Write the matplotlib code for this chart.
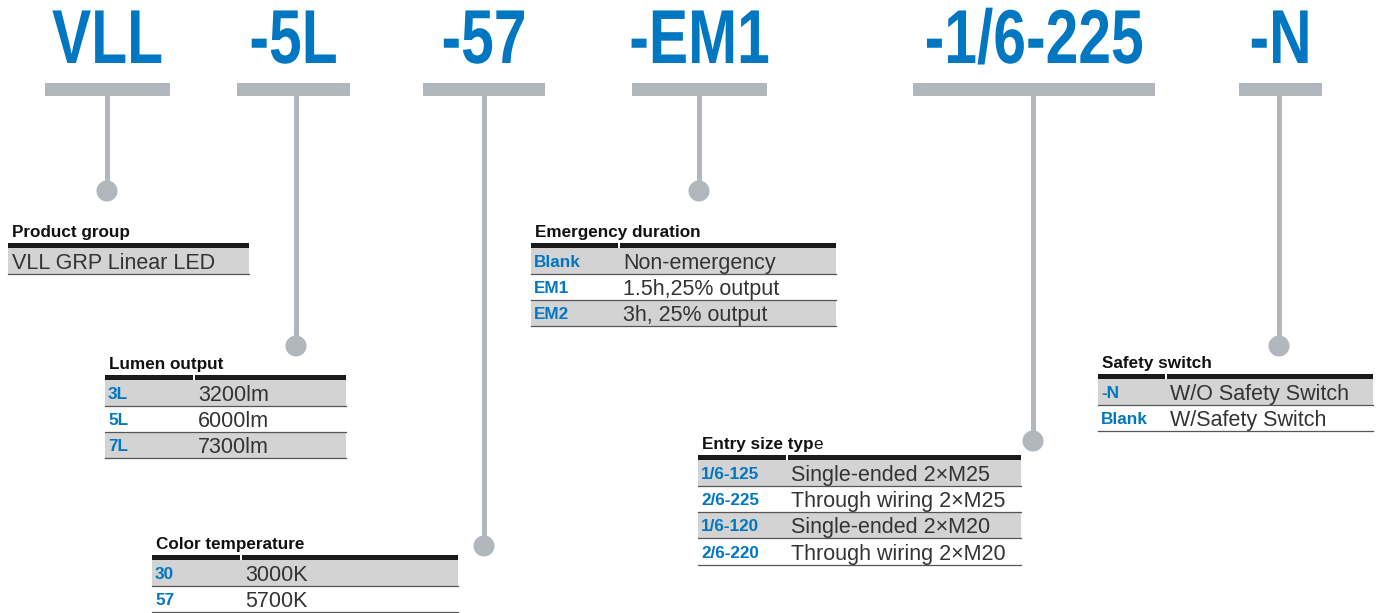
import matplotlib.pyplot as plt
from matplotlib.patches import Rectangle, Circle
from matplotlib.patheffects import AbstractPathEffect
from matplotlib.transforms import Affine2D

# ---- data ----
header_codes = ["VLL", "-5L", "-57", "-EM1", "-1/6-225", "-N"]

product_title = "Product group"
product_codes = [""]
product_desc = ["VLL GRP Linear LED"]

lumen_title = "Lumen output"
lumen_codes = ["3L", "5L", "7L"]
lumen_desc = ["3200lm", "6000lm", "7300lm"]

cct_title = "Color temperature"
cct_codes = ["30", "57"]
cct_desc = ["3000K", "5700K"]

em_title = "Emergency duration"
em_codes = ["Blank", "EM1", "EM2"]
em_desc = ["Non-emergency", "1.5h,25% output", "3h, 25% output"]

entry_title = "Entry size typ"   # last "e" is set in regular weight in the original
entry_codes = ["1/6-125", "2/6-225", "1/6-120", "2/6-220"]
entry_desc = ["Single-ended 2\u00d7M25", "Through wiring 2\u00d7M25",
              "Single-ended 2\u00d7M20", "Through wiring 2\u00d7M20"]

switch_title = "Safety switch"
switch_codes = ["-N", "Blank"]
switch_desc = ["W/O Safety Switch", "W/Safety Switch"]

# ---- layout (pixels) ----
# header: bar left, bar right, stem x, dot y
header_layout = [(45, 170, 107, 191), (237, 350, 296, 346), (423, 545, 484, 546),
                 (632, 767, 699, 191), (913, 1155, 1033, 441), (1239, 1322, 1279, 346)]
# table: left, right, top of black rule, value column x
tables = [
    (product_title, product_codes, product_desc, (8, 249, 243, 12)),
    (lumen_title, lumen_codes, lumen_desc, (105, 346, 375, 198)),
    (cct_title, cct_codes, cct_desc, (152, 458, 555, 245)),
    (em_title, em_codes, em_desc, (531, 836, 243, 623)),
    (entry_title, entry_codes, entry_desc, (698, 1021, 455, 791)),
    (switch_title, switch_codes, switch_desc, (1098, 1373, 374, 1170)),
]

BLUE = "#0077c0"
GREY = "#b1b7bd"
ROW = "#d3d3d3"
TXT = "#333333"
SANS = ["Liberation Sans", "DejaVu Sans"]


class Squeeze(AbstractPathEffect):
    """Narrow the glyphs horizontally around a centre x (display px)."""
    def __init__(self, cx, sx):
        super().__init__()
        self.cx, self.sx = cx, sx

    def draw_path(self, renderer, gc, tpath, affine, rgbFace=None):
        aff = affine + Affine2D().translate(-self.cx, 0).scale(self.sx, 1).translate(self.cx, 0)
        renderer.draw_path(gc, tpath, aff, rgbFace)


fig = plt.figure(figsize=(13.8, 6.13), dpi=100)
ax = fig.add_axes([0, 0, 1, 1])
ax.set_xlim(0, 1380)
ax.set_ylim(613, 0)
ax.axis("off")

# header codes, bars, stems and dots
for code, (x0, x1, sx, dy) in zip(header_codes, header_layout):
    cx = (x0 + x1) / 2
    ax.text(cx, 63, code, ha="center", va="baseline", color=BLUE,
            fontsize=55, fontweight="bold", family=SANS,
            path_effects=[Squeeze(cx, 0.77)])
    ax.add_patch(Rectangle((x0, 83), x1 - x0, 13, color=GREY, lw=0))
    ax.add_patch(Rectangle((sx - 2.5, 96), 5, dy - 96, color=GREY, lw=0))
    ax.add_patch(Circle((sx, dy), 10.5, color=GREY, lw=0))

row_h = 26.3
for title, codes, descs, (x0, x1, top, vx) in tables:
    t = ax.text(x0 + 4, top - 6, title, ha="left", va="baseline", color="#111111",
                fontsize=12.3, fontweight="bold", family=SANS)
    if title == entry_title:
        fig.canvas.draw()
        bb = t.get_window_extent()
        ex, _ = ax.transData.inverted().transform((bb.x1, bb.y0))
        ax.text(ex, top - 6, "e", ha="left", va="baseline", color="#111111",
                fontsize=12.3, family=SANS)
    ax.add_patch(Rectangle((x0, top), x1 - x0, 4.5, color="#1a1a1a", lw=0))
    if any(codes):
        ax.add_patch(Rectangle((vx - 5, top), 1.5, 4.5, color="white", lw=0))
    y = top + 4.5
    for i, (c, d) in enumerate(zip(codes, descs)):
        if i % 2 == 0:
            ax.add_patch(Rectangle((x0, y), x1 - x0, row_h, color=ROW, lw=0))
        ax.plot([x0, x1], [y + row_h, y + row_h], color="#555555", lw=0.9)
        if c:
            ax.text(x0 + 3, y + row_h - 7, c, ha="left", va="baseline", color=BLUE,
                    fontsize=12.3, fontweight="bold", family=SANS)
        ax.text(vx, y + row_h - 5, d, ha="left", va="baseline", color=TXT,
                fontsize=15.5, family=SANS)
        y += row_h

fig.savefig("out.png", dpi=100)
